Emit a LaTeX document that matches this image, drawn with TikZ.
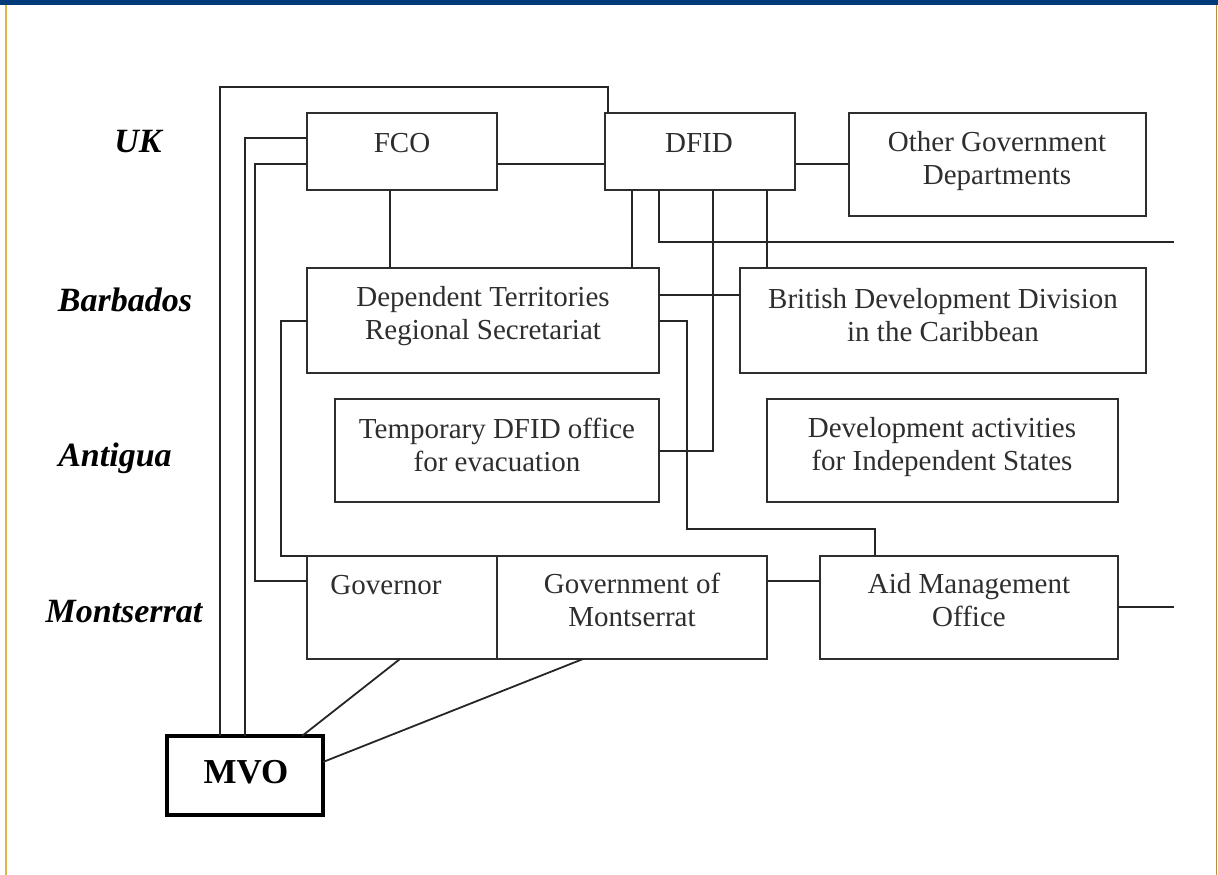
\documentclass[tikz,border=0pt]{standalone}
\usepackage{fontspec}
\setmainfont{Liberation Serif}
\usetikzlibrary{calc}
\definecolor{topblue}{HTML}{003A78}
\definecolor{sidegold}{HTML}{E2B24A}
\definecolor{ink}{HTML}{2E2E2E}
\tikzset{
  box/.style={draw=ink, line width=2pt, anchor=north west, inner sep=0pt, outer sep=0pt},
  boxtext/.style={text=ink, inner sep=0pt, align=center, font=\fontsize{29}{33}\selectfont},
  place/.style={inner sep=0pt, font=\fontsize{34}{38}\selectfont\bfseries\itshape},
  link/.style={draw=black!85, line width=1.8pt},
}
\begin{document}
\begin{tikzpicture}[x=1pt, y=-1pt]
\useasboundingbox (0,0) rectangle (1218,875);
\fill[white] (0,0) rectangle (1218,875);
\fill[topblue] (0,0) rectangle (1218,5);
\draw[sidegold, line width=1.5pt] (6,5) -- (6,875);
\draw[sidegold!80!black, line width=1.5pt] (1216.5,5) -- (1216.5,875);

% boxes
\node[box, minimum width=190pt, minimum height=77pt] (fco) at (307,113) {};
\node[box, minimum width=190pt, minimum height=77pt] (dfid) at (605,113) {};
\node[box, minimum width=297pt, minimum height=103pt] (ogd) at (849,113) {};
\node[box, minimum width=352pt, minimum height=105pt] (dtrs) at (307,268) {};
\node[box, minimum width=406pt, minimum height=105pt] (bdd) at (740,268) {};
\node[box, minimum width=324pt, minimum height=103pt] (tmp) at (335,399) {};
\node[box, minimum width=351pt, minimum height=103pt] (dev) at (767,399) {};
\node[box, minimum width=190pt, minimum height=103pt] (gov) at (307,556) {};
\node[box, minimum width=270pt, minimum height=103pt] (gom) at (497,556) {};
\node[box, minimum width=298pt, minimum height=103pt] (amo) at (820,556) {};
\node[box, draw=black, line width=4pt, minimum width=156pt, minimum height=79pt] (mvo) at (167,736) {};

% texts
\node[boxtext] (tfco) at (402,143) {FCO};
\node[boxtext] (tdfid) at (699,143) {DFID};
\node[boxtext] (togd) at (997,161) {Other Government\\Departments};
\node[boxtext] (tdtrs) at (483,316) {Dependent Territories\\Regional Secretariat};
\node[boxtext] (tbdd) at (943,315) {British Development Division\\in the Caribbean};
\node[boxtext] (ttmp) at (497,445) {Temporary DFID office\\for evacuation};
\node[boxtext] (tdev) at (942,447) {Development activities\\for Independent States};
\node[boxtext] (tgov) at (386,585) {Governor};
\node[boxtext] (tgom) at (632,600) {Government of\\Montserrat};
\node[boxtext] (tamo) at (969,600) {Aid Management\\Office};
\node[inner sep=0pt, font=\fontsize{35}{38}\selectfont\bfseries] (tmvo) at (246,772) {MVO};

% place labels
\node[place] (uk) at (138,142) {UK};
\node[place] (barb) at (125,300) {Barbados};
\node[place] (anti) at (115,458) {Antigua};
\node[place] (mont) at (124,612) {Montserrat};

% free ends
\coordinate (endA) at (1174,242);
\coordinate (endB) at (1174,607);

% connectors
\draw[link] ($(mvo.north west)+(53,0)$) |- ($(dfid.north west)+(3,-26)$) -- ($(dfid.north west)+(3,0)$);
\draw[link] ($(fco.north west)+(0,25)$) -| ($(mvo.north west)+(78,0)$);
\draw[link] ($(fco.north west)+(0,51)$) -| ($(gov.north west)+(-52,25)$) -- ($(gov.north west)+(0,25)$);
\draw[link] ($(dtrs.north west)+(0,53)$) -| ($(gov.north west)+(-26,0)$) -- (gov.north west);
\draw[link] ($(fco.south west)+(83,0)$) -- ($(dtrs.north west)+(83,0)$);
\draw[link] ($(fco.north east)+(0,51)$) -- ($(dfid.north west)+(0,51)$);
\draw[link] ($(dfid.north east)+(0,51)$) -- ($(ogd.north west)+(0,51)$);
\draw[link] ($(dfid.south west)+(27,0)$) -- ($(dtrs.north east)+(-27,0)$);
\draw[link] ($(dfid.south west)+(54,0)$) |- (endA);
\draw[link] ($(dfid.south west)+(108,0)$) |- ($(tmp.north east)+(0,52)$);
\draw[link] ($(dfid.south west)+(162,0)$) -- ($(bdd.north west)+(27,0)$);
\draw[link] ($(dtrs.north east)+(0,27)$) -- ($(bdd.north west)+(0,27)$);
\draw[link] ($(dtrs.north east)+(0,53)$) -| ($(amo.north west)+(-133,-27)$) -| ($(amo.north west)+(55,0)$);
\draw[link] ($(gom.north east)+(0,25)$) -- ($(amo.north west)+(0,25)$);
\draw[link] ($(amo.north east)+(0,51)$) -- (endB);
\draw[link] ($(gov.south west)+(93,0)$) -- ($(mvo.north west)+(135,0)$);
\draw[link] ($(gom.south west)+(86,0)$) -- ($(mvo.north east)+(0,26)$);
\end{tikzpicture}
\end{document}
